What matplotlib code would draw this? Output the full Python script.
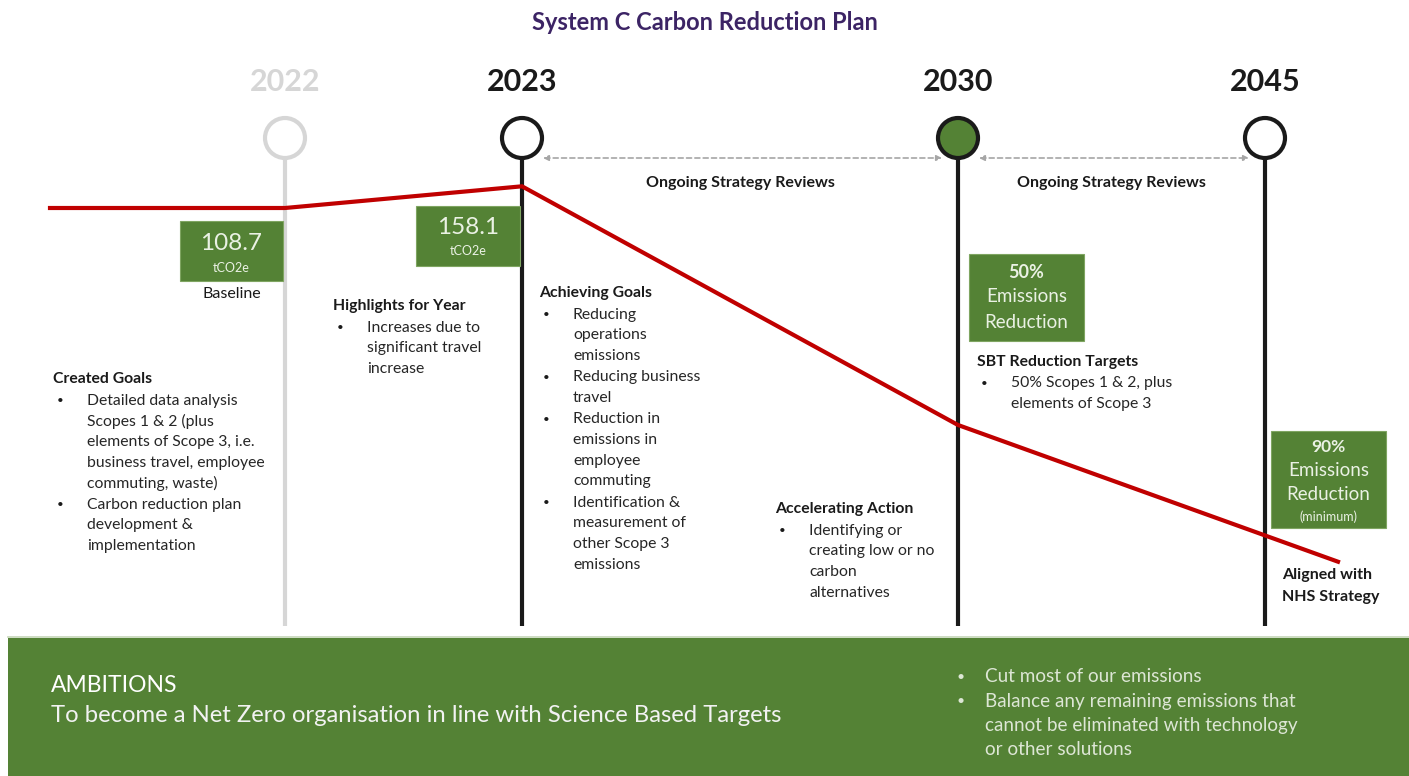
import matplotlib
matplotlib.use("Agg")
import matplotlib.pyplot as plt
from matplotlib.patches import Circle, Rectangle

GREEN = "#548235"; RED = "#C00000"; INK = "#1A1A1A"; PALE = "#D6D6D6"; PURPLE = "#3C2465"
plt.rcParams["font.family"] = ["Lato", "DejaVu Sans"]

# ---- data ----
years = ["2022", "2023", "2030", "2045"]
year_x = [285, 522, 958, 1265]          # layout positions on the timeline
year_active = [False, True, True, True]
year_filled = [False, False, True, False]

# schematic emissions trend (relative level, baseline = 100)
trend_x = [50, 285, 522, 958, 1338]
trend_level = [100, 100, 105, 50, 18.5]

baseline_val = "108.7"
current_val = "158.1"
target_2030 = "50%"
target_2045 = "90%"

created_goals = ["Detailed data analysis\nScopes 1 & 2 (plus\nelements of Scope 3, i.e.\nbusiness travel, employee\ncommuting, waste)",
                 "Carbon reduction plan\ndevelopment &\nimplementation"]
highlights = ["Increases due to\nsignificant travel\nincrease"]
achieving = ["Reducing\noperations\nemissions", "Reducing business\ntravel",
             "Reduction in\nemissions in\nemployee\ncommuting",
             "Identification &\nmeasurement of\nother Scope 3\nemissions"]
accelerating = ["Identifying or\ncreating low or no\ncarbon\nalternatives"]
sbt = ["50% Scopes 1 & 2, plus\nelements of Scope 3"]
ambition_points = ["Cut most of our emissions",
                   "Balance any remaining emissions that\ncannot be eliminated with technology\nor other solutions"]

W, H = 1409, 776
fig = plt.figure(figsize=(W / 100, H / 100), dpi=100)
ax = fig.add_axes([0, 0, 1, 1])
ax.set_xlim(0, W); ax.set_ylim(H, 0); ax.axis("off")

ax.text(705, 22, "System C Carbon Reduction Plan", ha="center", va="center",
        fontsize=17, fontweight="bold", color=PURPLE)

# ---- milestones ----
for yr, x, act, fill in zip(years, year_x, year_active, year_filled):
    col = INK if act else PALE
    ax.text(x, 82, yr, ha="center", va="center", fontsize=22, fontweight="bold", color=col)
    ax.plot([x, x], [158, 626], color=col, lw=3, solid_capstyle="butt", zorder=2)
    ax.add_patch(Circle((x, 138), 20, facecolor=GREEN if fill else "white",
                        edgecolor=col, lw=3, zorder=4))

# ongoing reviews arrows
for a, b in [(1, 2), (2, 3)]:
    x0, x1 = year_x[a] + 21, year_x[b] - 16
    ax.annotate("", xy=(x1, 158), xytext=(x0, 158),
                arrowprops=dict(arrowstyle="<|-|>", color="#A6A6A6", lw=1.2, ls=(0, (3, 2)),
                                mutation_scale=8, shrinkA=0, shrinkB=0))
    ax.text((year_x[a] + year_x[b]) / 2, 183, "Ongoing Strategy Reviews", ha="center",
            va="center", fontsize=11.5, fontweight="bold", color=INK)

# ---- trend line on its own scale ----
tax = fig.add_axes([0, 0, 1, 1], facecolor="none")
tax.set_xlim(0, W); tax.set_ylim(100 - (H - 208) / 4.34, 100 + 208 / 4.34); tax.axis("off")
tax.plot(trend_x, trend_level, color=RED, lw=3, zorder=3, solid_joinstyle="miter")

# ---- green value boxes ----
def box(x0, y0, w, h, lines):
    ax.add_patch(Rectangle((x0, y0), w, h, facecolor=GREEN, edgecolor="#7FA561", lw=0.8, zorder=5))
    for txt, yy, fs, fw in lines:
        ax.text(x0 + w / 2, yy, txt, ha="center", va="center", fontsize=fs, fontweight=fw,
                color="#EAF1E4", zorder=6)

box(180, 221, 103, 60, [(baseline_val, 243, 17.5, "normal"), ("tCO2e", 268, 9, "normal")])
box(416, 206, 104, 60, [(current_val, 228, 17.5, "normal"), ("tCO2e", 251, 9, "normal")])
box(969, 254, 115, 87, [(target_2030, 272, 13, "bold"), ("Emissions", 297, 13.5, "normal"),
                        ("Reduction", 322, 13.5, "normal")])
box(1271, 431, 115, 97, [(target_2045, 447, 12.5, "bold"), ("Emissions", 470, 13.5, "normal"),
                         ("Reduction", 494, 13.5, "normal"), ("(minimum)", 517, 9, "normal")])
ax.text(232, 294, "Baseline", ha="center", va="center", fontsize=11.5, color=INK)

# ---- text blocks ----
LS = 20.7
def block(x, y, title, items, fs=11.3):
    ax.text(x, y, title, ha="left", va="center", fontsize=fs, fontweight="bold", color=INK)
    yy = y + 21.5
    for it in items:
        ax.text(x + 4, yy, "•", ha="left", va="center", fontsize=fs - 3, color=INK)
        for ln in it.split("\n"):
            ax.text(x + 34, yy, ln, ha="left", va="center", fontsize=fs, color="#262626")
            yy += LS
        yy += 0.6

block(53, 379, "Created Goals", created_goals)
block(333, 306, "Highlights for Year", highlights)
block(539, 293, "Achieving Goals", achieving)
block(775, 509, "Accelerating Action", accelerating)
block(977, 362, "SBT Reduction Targets", sbt)
ax.text(1282, 575, "Aligned with", ha="left", va="center", fontsize=11.5, fontweight="bold", color=INK)
ax.text(1282, 597, "NHS Strategy", ha="left", va="center", fontsize=11.5, fontweight="bold", color=INK)

# ---- ambitions band ----
ax.add_patch(Rectangle((8, 638), W - 8, H - 638, facecolor=GREEN, edgecolor="none", zorder=1))
ax.plot([8, W], [637, 637], color="#C5D6B8", lw=1.2)
ax.text(51, 685, "AMBITIONS", ha="left", va="center", fontsize=16.5, color="white")
ax.text(51, 716, "To become a Net Zero organisation in line with Science Based Targets",
        ha="left", va="center", fontsize=17.2, color="#F2F2F2")
yy = 677
for it in ambition_points:
    ax.text(957, yy, "•", ha="left", va="center", fontsize=10, color="#DDE6D5")
    for ln in it.split("\n"):
        ax.text(985, yy, ln, ha="left", va="center", fontsize=13.6, color="#DDE6D5")
        yy += 24.3

fig.savefig("out.png", dpi=100, facecolor="white")
